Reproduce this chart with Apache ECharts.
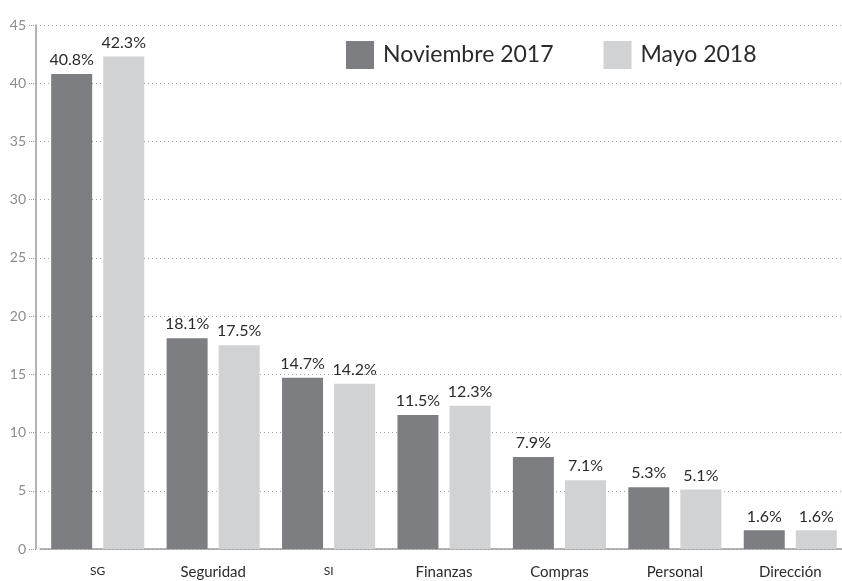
<!DOCTYPE html>
<html>
<head>
<meta charset="utf-8">
<script src="https://cdn.jsdelivr.net/npm/echarts@6/dist/echarts.min.js"></script>
<style>
    html, body { margin: 0; padding: 0; background: #fff; }
    #chart { width: 842px; height: 581px; }
</style>
</head>
<body>
<div id="chart"></div>
<script>
const categories = ['SG', 'Seguridad', 'SI', 'Finanzas', 'Compras', 'Personal', 'Dirección'];
const seriesNames = ['Noviembre 2017', 'Mayo 2018'];
// bar heights as drawn
const nov2017 = [40.8, 18.1, 14.7, 11.5, 7.9, 5.3, 1.6];
const may2018 = [42.3, 17.5, 14.2, 12.3, 5.9, 5.1, 1.6];
// printed percentages
const nov2017Labels = ['40.8%', '18.1%', '14.7%', '11.5%', '7.9%', '5.3%', '1.6%'];
const may2018Labels = ['42.3%', '17.5%', '14.2%', '12.3%', '7.1%', '5.1%', '1.6%'];
const yTicks = [0, 5, 10, 15, 20, 25, 30, 35, 40, 45];

const font = 'Lato';
const chart = echarts.init(document.getElementById('chart'));

function barLabel(labels) {
    return {
        show: true,
        position: 'top',
        distance: 6,
        color: '#2b2b2b',
        fontFamily: font,
        fontSize: 16,
        formatter: p => labels[p.dataIndex]
    };
}

chart.setOption({
    animation: false,
    textStyle: { fontFamily: font },
    legend: {
        top: 36,
        left: 341,
        itemWidth: 28,
        itemHeight: 28,
        itemGap: 50,
        icon: 'rect',
        textStyle: { fontSize: 23, color: '#2b2b2b', fontFamily: font, padding: [0, 0, 0, 4] },
        data: seriesNames
    },
    // plot runs a little past the right edge, like the original
    grid: { left: 40, width: 808, top: 25, bottom: 32, outerBoundsMode: 'none' },
    xAxis: {
        type: 'category',
        data: categories,
        axisLine: { lineStyle: { color: '#9a9a9a', width: 1.5 } },
        axisTick: { show: false },
        axisLabel: {
            margin: 16,
            color: '#2b2b2b',
            fontSize: 15,
            fontFamily: font,
            formatter: v => (v === 'SG' || v === 'SI') ? '{sc|' + v + '}' : v,
            rich: { sc: { fontSize: 12, fontFamily: font, color: '#2b2b2b' } }
        }
    },
    yAxis: {
        type: 'value',
        min: yTicks[0],
        max: yTicks[yTicks.length - 1],
        interval: 5,
        offset: 4,
        axisLine: { show: true, lineStyle: { color: '#9a9a9a', width: 1.5 } },
        axisTick: { show: true, length: 7, lineStyle: { color: '#9a9a9a', type: 'dotted' } },
        axisLabel: { color: '#8c8c8c', fontSize: 14, margin: 10, fontFamily: font },
        splitLine: { lineStyle: { color: '#a5a5a5', type: [1, 3], width: 1 } }
    },
    series: [
        {
            name: seriesNames[0],
            type: 'bar',
            data: nov2017,
            barWidth: 41,
            barGap: '27%',
            itemStyle: { color: '#7d7e82' },
            label: barLabel(nov2017Labels)
        },
        {
            name: seriesNames[1],
            type: 'bar',
            data: may2018,
            barWidth: 41,
            itemStyle: { color: '#d1d2d4' },
            label: barLabel(may2018Labels)
        }
    ]
});
</script>
</body>
</html>
